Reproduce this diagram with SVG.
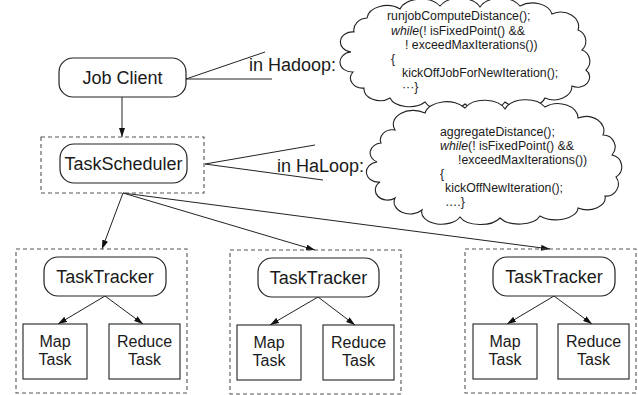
<svg xmlns="http://www.w3.org/2000/svg" width="638" height="395" viewBox="0 0 638 395">
<style>
text { font-family: "Liberation Sans", Arial, Helvetica, sans-serif; fill: #1a1a1a; }
.big { font-size: 18px; }
.mid { font-size: 16px; text-anchor: middle; }
.code { font-size: 12.3px; }
.rnd { fill: #fff; stroke: #222; stroke-width: 1.2; }
.sq { fill: #fff; stroke: #222; stroke-width: 1.1; }
.dash { fill: none; stroke: #555; stroke-width: 1.1; stroke-dasharray: 4 3; }
.cloud { fill: #fff; stroke: #222; stroke-width: 1.1; }
.call { fill: none; stroke: #222; stroke-width: 1; }
.conn { fill: none; stroke: #222; stroke-width: 1; marker-end: url(#ah); }
</style>
<defs>
<marker id="ah" markerWidth="9" markerHeight="6" refX="9" refY="3" orient="auto" markerUnits="userSpaceOnUse">
<path d="M0,0 L9,3 L0,6 z" fill="#111"/>
</marker>
</defs>
<rect width="638" height="395" fill="#fff"/>

<g id="connectors">
<line class="conn" x1="122" y1="97" x2="122" y2="137"/>
<line class="conn" x1="123" y1="193" x2="102" y2="249"/>
<line class="conn" x1="123" y1="193" x2="315" y2="250"/>
<line class="conn" x1="123" y1="193" x2="550" y2="249"/>
<line class="conn" x1="105" y1="296" x2="58" y2="324"/>
<line class="conn" x1="105" y1="296" x2="143" y2="324"/>
<line class="conn" x1="318" y1="297" x2="270" y2="325"/>
<line class="conn" x1="318" y1="297" x2="355" y2="325"/>
<line class="conn" x1="554" y1="296" x2="507" y2="324"/>
<line class="conn" x1="554" y1="296" x2="592" y2="324"/>
<polyline class="call" points="265,52 186,79 272,79"/>
<polyline class="call" points="315,145 205,164 323,180"/>
</g>

<g id="job-client">
<rect class="rnd" x="59" y="58" width="127" height="39" rx="14"/>
<text class="big" x="122.5" y="84" text-anchor="middle">Job Client</text>
</g>

<g id="scheduler-box">
<rect class="dash" x="41" y="137" width="163" height="56"/>
</g>
<g id="task-scheduler">
<rect class="rnd" x="60" y="144" width="127" height="39" rx="14"/>
<text class="big" x="123.5" y="170" text-anchor="middle">TaskScheduler</text>
</g>

<g id="label-hadoop">
<text class="big" x="249" y="71">in Hadoop:</text>
</g>
<g id="label-haloop">
<text class="big" x="277" y="172">in HaLoop:</text>
</g>

<g id="cloud-hadoop">
<path class="cloud" d="M 367 18 A 20 14 0 0 1 400 9 A 22 14 0 0 1 440 6 A 22 14 0 0 1 480 7 A 22 14 0 0 1 520 6 A 20 14 0 0 1 552 14 A 18 14 0 0 1 578 30 A 12 12 0 0 1 582 50 A 12 12 0 0 1 586 70 A 12 10 0 0 1 572 86 A 18 14 0 0 1 545 98 A 22 12 0 0 1 505 102 A 22 12 0 0 1 465 104 A 22 12 0 0 1 425 102 A 20 12 0 0 1 390 98 A 16 12 0 0 1 364 88 A 12 10 0 0 1 353 72 A 12 10 0 0 1 351 52 A 12 10 0 0 1 354 32 A 14 12 0 0 1 367 18 Z"/>
<text class="code" x="387" y="20">runjobComputeDistance();</text>
<text class="code" x="391" y="35"><tspan font-style="italic">while</tspan>(! isFixedPoint() &amp;&amp;</text>
<text class="code" x="405" y="49">! exceedMaxIterations())</text>
<text class="code" x="391" y="63">{</text>
<text class="code" x="402" y="77">kickOffJobForNewIteration();</text>
<text class="code" x="402" y="91">···}</text>
</g>

<g id="cloud-haloop">
<path class="cloud" d="M 395 130 A 20 14 0 0 1 425 113 A 22 14 0 0 1 465 108 A 22 14 0 0 1 505 109 A 22 14 0 0 1 545 107 A 20 14 0 0 1 578 118 A 18 14 0 0 1 603 135 A 12 12 0 0 1 612 155 A 12 12 0 0 1 616 177 A 12 12 0 0 1 605 196 A 18 12 0 0 1 578 208 A 22 12 0 0 1 540 216 A 22 12 0 0 1 500 218 A 22 12 0 0 1 460 217 A 20 12 0 0 1 422 210 A 16 12 0 0 1 395 198 A 12 10 0 0 1 380 182 A 12 10 0 0 1 377 162 A 12 10 0 0 1 381 143 A 12 10 0 0 1 395 130 Z"/>
<text class="code" x="440" y="136">aggregateDistance();</text>
<text class="code" x="440" y="150"><tspan font-style="italic">while</tspan>(! isFixedPoint() &amp;&amp;</text>
<text class="code" x="458" y="164">!exceedMaxIterations())</text>
<text class="code" x="440" y="178">{</text>
<text class="code" x="445" y="192">kickOffNewIteration();</text>
<text class="code" x="445" y="206">….}</text>
</g>

<g id="worker-1">
<rect class="dash" x="16" y="249" width="171" height="144"/>
<rect class="rnd" x="44" y="257" width="122" height="39" rx="14"/>
<text class="big" x="105" y="283" text-anchor="middle">TaskTracker</text>
<rect class="sq" x="23" y="324" width="64" height="55"/>
<text class="mid" x="55" y="347">Map</text>
<text class="mid" x="55" y="365">Task</text>
<rect class="sq" x="109" y="324" width="71" height="55"/>
<text class="mid" x="144.5" y="347">Reduce</text>
<text class="mid" x="144.5" y="365">Task</text>
</g>

<g id="worker-2">
<rect class="dash" x="230" y="250" width="171" height="144"/>
<rect class="rnd" x="258" y="258" width="121" height="39" rx="14"/>
<text class="big" x="318.5" y="284" text-anchor="middle">TaskTracker</text>
<rect class="sq" x="237" y="325" width="64" height="55"/>
<text class="mid" x="269" y="348">Map</text>
<text class="mid" x="269" y="366">Task</text>
<rect class="sq" x="323" y="325" width="71" height="55"/>
<text class="mid" x="358.5" y="348">Reduce</text>
<text class="mid" x="358.5" y="366">Task</text>
</g>

<g id="worker-3">
<rect class="dash" x="465" y="249" width="171" height="144"/>
<rect class="rnd" x="493" y="257" width="122" height="39" rx="14"/>
<text class="big" x="554" y="283" text-anchor="middle">TaskTracker</text>
<rect class="sq" x="473" y="324" width="64" height="55"/>
<text class="mid" x="505" y="347">Map</text>
<text class="mid" x="505" y="365">Task</text>
<rect class="sq" x="558" y="324" width="71" height="55"/>
<text class="mid" x="593.5" y="347">Reduce</text>
<text class="mid" x="593.5" y="365">Task</text>
</g>
</svg>
